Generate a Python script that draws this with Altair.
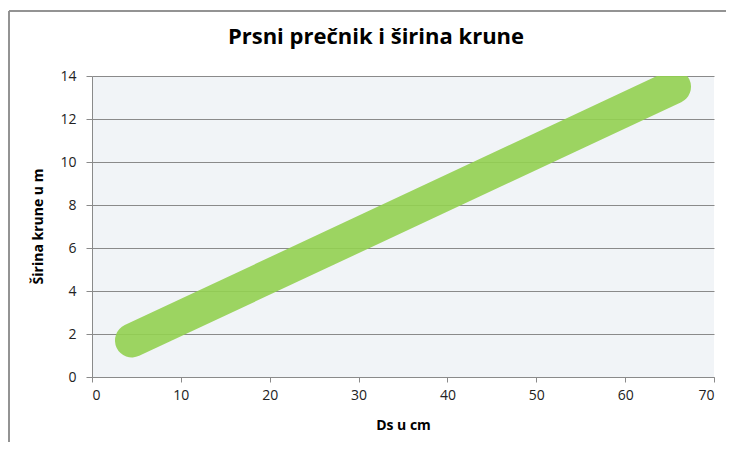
import altair as alt
import pandas as pd

ds_cm = [4.5, 65.5]
sirina_m = [1.7, 13.5]
x_ticks = [0, 10, 20, 30, 40, 50, 60, 70]
y_ticks = [0, 2, 4, 6, 8, 10, 12, 14]

df = pd.DataFrame({"Ds": ds_cm, "Sirina": sirina_m})

FONT = "Open Sans"
GRAY = "#8a8a8a"

x_enc = alt.X(
    "Ds:Q",
    scale=alt.Scale(domain=[0, 70], nice=False),
    axis=alt.Axis(
        values=x_ticks, title="Ds u cm", grid=False, tickSize=5, labelPadding=6,
        titleX=311, titleY=48, titleBaseline="middle",
    ),
)
y_enc = alt.Y(
    "Sirina:Q",
    scale=alt.Scale(domain=[0, 14], nice=False),
    axis=alt.Axis(
        values=y_ticks, title="Širina krune u m", grid=True, tickSize=6, labelPadding=10,
        titleX=-54, titleY=150, titleBaseline="middle", titleAngle=-90,
    ),
)

line = alt.Chart(df).mark_line(
    color="#92d050", strokeWidth=34, strokeCap="round", opacity=0.9, clip=True
).encode(x=x_enc, y=y_enc)

frame_left = alt.Chart(df).mark_rule(
    color="#8c8c8c", strokeWidth=1.5, clip=False
).encode(
    x=alt.value(-83), y=alt.value(-65), y2=alt.value(366)
)
frame_top = alt.Chart(df).mark_rule(
    color="#8c8c8c", strokeWidth=1.5, clip=False
).encode(
    x=alt.value(-83), x2=alt.value(634), y=alt.value(-65)
)

chart = alt.layer(frame_left, frame_top, line).properties(
    width=622,
    height=301,
    background="white",
    autosize=alt.AutoSizeParams(type="none"),
    padding={"left": 84, "top": 68, "right": 13, "bottom": 66},
    title=alt.TitleParams(
        "Prsni prečnik i širina krune", font=FONT, fontSize=22, fontWeight="bold",
        color="#000000", anchor="middle", dx=-27, dy=59, offset=20, frame="group",
    ),
).configure_view(
    fill="#f1f4f7", stroke=None
).configure_axis(
    domainColor=GRAY, tickColor=GRAY, gridColor=GRAY, gridWidth=1,
    labelFont=FONT, labelFontSize=14, labelColor="#222222",
    titleFont=FONT, titleFontSize=14, titleFontWeight="bold", titleColor="#000000",
)

chart.save("out.html", embed_options={"renderer": "svg", "actions": False})
